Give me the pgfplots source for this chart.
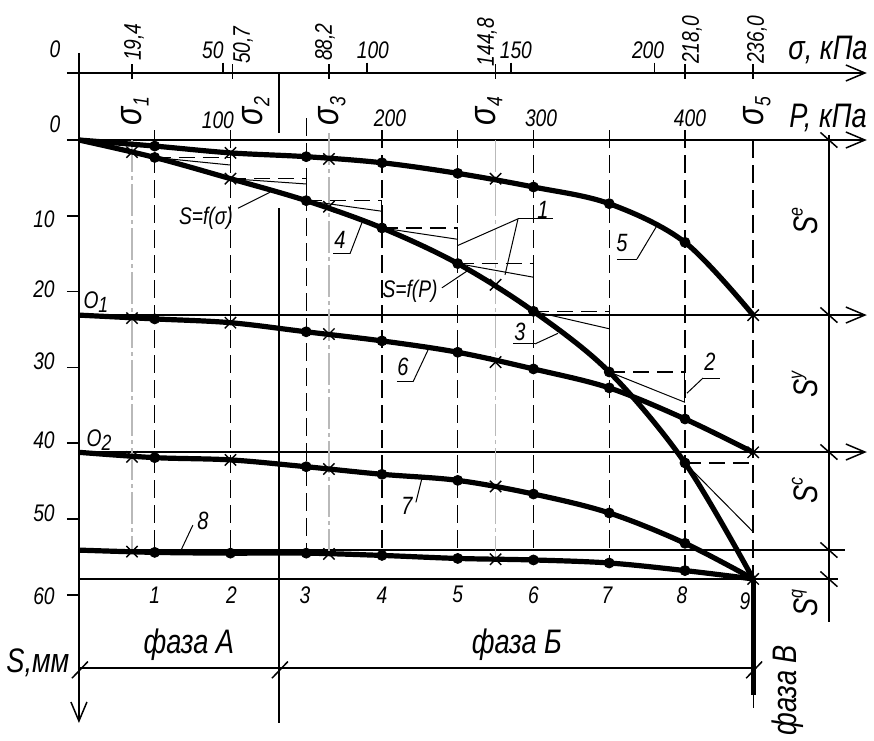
\documentclass[border=0pt]{standalone}
\usepackage{pgfplots}
\pgfplotsset{compat=1.18}
\usepackage{fontspec}
\setmainfont{Liberation Sans}[FakeStretch=0.8]
\usetikzlibrary{arrows.meta}
\newcommand\sbs[1]{\raisebox{-0.35ex}{\fontsize{11}{11}\selectfont\itshape #1}}
\newcommand\sps[1]{\raisebox{0.85ex}{\fontsize{10}{10}\selectfont\itshape #1}}
\tikzset{
  tk/.style={font=\fontsize{12}{13}\selectfont\itshape, inner sep=0pt},
  big/.style={font=\fontsize{17}{18}\selectfont\itshape, inner sep=0pt},
  sig/.style={font=\fontsize{19}{20}\selectfont\itshape, inner sep=0pt, rotate=90},
  ph/.style={font=\fontsize{17}{18}\selectfont\itshape, inner sep=0pt},
  cl/.style={font=\fontsize{12.5}{13}\selectfont\itshape, inner sep=0pt},
}
\pgfplotsset{
  crv/.style={black, line width=2.6pt, smooth, tension=0.55},
  ax/.style={black, line width=0.75pt},
  thn/.style={black, line width=0.5pt},
  dsh/.style={black, line width=0.7pt, dash pattern=on 9pt off 3.5pt},
  hds/.style={black, line width=0.6pt, dash pattern=on 8pt off 4pt},
  gry/.style={gray!55, line width=0.6pt, dash pattern=on 16pt off 2pt on 2pt off 2pt},
  dots/.style={only marks, mark=*, mark size=2.5pt, black},
  crs/.style={only marks, mark=x, mark size=4pt, black, mark options={line width=0.7pt}},
  arr/.style={ax, -{Straight Barb[length=9.5pt,width=8pt]}},
}
\begin{document}
\begin{tikzpicture}
\begin{axis}[x=0.7575pt, y=3.79pt, y dir=reverse,
  xmin=-52.1, xmax=524.75, ymin=-18.47, ymax=79.16,
  hide axis, clip=false]
\coordinate (bl) at (axis cs:-52.1,79.16);
\coordinate (tr) at (axis cs:524.75,-18.47);

% ---------- frame / axes ----------
\addplot[arr] coordinates {(-7.9,-8.84) (520,-8.84)};
\addplot[arr] coordinates {(-7.9,0) (520,0)};
\addplot[arr] coordinates {(0,23.09) (520,23.09)};
\addplot[arr] coordinates {(0,41.16) (520,41.16)};
\addplot[ax] coordinates {(0,54.09) (505.6,54.09)};
\addplot[ax] coordinates {(0,57.92) (501,57.92)};
\addplot[ax] coordinates {(0,69.66) (445,69.66)};
\addplot[arr] coordinates {(0,-11.5) (0,76.9)};
\addplot[ax] coordinates {(495,-0.7) (495,63.6)};
\addplot[ax] coordinates {(132,-8.84) (132,-0.9)};
\addplot[ax] coordinates {(132,9.0) (132,76.9)};
% y ticks
\addplot[ax] coordinates {(-7.9,10) (0,10)};
\addplot[ax] coordinates {(-7.9,20) (0,20)};
\addplot[ax] coordinates {(-7.9,30) (0,30)};
\addplot[ax] coordinates {(-7.9,40) (0,40)};
\addplot[ax] coordinates {(-7.9,50) (0,50)};
\addplot[ax] coordinates {(-7.9,60) (0,60)};
% sigma axis ticks
\addplot[ax] coordinates {(35,-10.0) (35,-8.0)};
\addplot[ax] coordinates {(95,-10.2) (95,-8.84)};
\addplot[ax] coordinates {(101.5,-10.0) (101.5,-8.0)};
\addplot[ax] coordinates {(165,-10.0) (165,-8.0)};
\addplot[ax] coordinates {(190,-10.2) (190,-8.84)};
\addplot[ax] coordinates {(275,-10.0) (275,-8.0)};
\addplot[ax] coordinates {(285,-10.2) (285,-8.84)};
\addplot[ax] coordinates {(380,-10.2) (380,-8.84)};
\addplot[ax] coordinates {(400,-10.0) (400,-8.0)};
\addplot[ax] coordinates {(445,-10.0) (445,-8.0)};
% slashes on right scale
\addplot[ax] coordinates {(489.4,-1.0) (500.6,1.0)};
\addplot[ax] coordinates {(489.4,22.09) (500.6,24.09)};
\addplot[ax] coordinates {(489.4,40.16) (500.6,42.16)};
\addplot[ax] coordinates {(489.4,53.09) (500.6,55.09)};
\addplot[ax] coordinates {(489.4,56.92) (500.6,58.92)};
% slashes on phase line
\addplot[ax] coordinates {(-4.6,71.0) (5.9,68.8)};
\addplot[ax] coordinates {(127.4,71.0) (137.9,68.8)};
\addplot[ax] coordinates {(440.4,71.0) (450.9,68.8)};

% ---------- vertical dashed lines ----------
\addplot[dsh] coordinates {(50,-1.3) (50,54.4)};
\addplot[dsh] coordinates {(100,-1.3) (100,54.5)};
\addplot[dsh] coordinates {(150,-2.9) (150,54.5)};
\addplot[dsh] coordinates {(200,-1.3) (200,54.8)};
\addplot[dsh] coordinates {(250,-1.3) (250,55.2)};
\addplot[dsh] coordinates {(300,-1.3) (300,55.4)};
\addplot[dsh] coordinates {(350,-1.3) (350,55.8)};
\addplot[dsh] coordinates {(400,-1.3) (400,56.8)};
\addplot[dsh] coordinates {(445,0) (445,57.9)};
\addplot[gry] coordinates {(35,0) (35,54.3)};
\addplot[gry] coordinates {(165,-0.9) (165,54.6)};
\addplot[gry] coordinates {(275,0) (275,55.3)};

% ---------- construction steps ----------
\addplot[hds] coordinates {(50,2.3) (100,2.3)};
\addplot[thn] coordinates {(50,2.3) (100,3.3)};
\addplot[hds] coordinates {(100,5.1) (150,5.1)};
\addplot[thn] coordinates {(100,5.1) (150,5.8)};
\addplot[thn] coordinates {(150,5.1) (150,8.0)};
\addplot[hds] coordinates {(150,8.0) (200,8.0)};
\addplot[thn] coordinates {(150,8.0) (200,9.4)};
\addplot[thn] coordinates {(200,8.0) (200,11.6)};
\addplot[hds] coordinates {(200,11.6) (250,11.6)};
\addplot[thn] coordinates {(200,11.6) (250,13.1)};
\addplot[thn] coordinates {(250,11.6) (250,16.3)};
\addplot[hds] coordinates {(250,16.3) (300,16.3)};
\addplot[thn] coordinates {(250,16.3) (300,18.1)};
\addplot[thn] coordinates {(300,16.3) (300,22.6)};
\addplot[hds] coordinates {(300,22.6) (350,22.6)};
\addplot[thn] coordinates {(300,22.6) (350,24.9)};
\addplot[thn] coordinates {(350,22.6) (350,30.6)};
\addplot[hds] coordinates {(350,30.6) (400,30.6)};
\addplot[thn] coordinates {(350,30.6) (400,34.6)};
\addplot[thn] coordinates {(400,30.6) (400,34.6)};
\addplot[hds] coordinates {(400,42.6) (445,42.6)};
\addplot[thn] coordinates {(400,42.6) (445,51.7)};

% ---------- curves ----------
% S = f(P)
\addplot[crv] coordinates {(0,0) (50,2.3) (100,5.1) (150,8.0) (200,11.6) (250,16.3) (300,22.6) (350,30.6) (400,42.6) (445,57.9)};
\addplot[dots] coordinates {(50,2.3) (150,8.0) (200,11.6) (250,16.3) (300,22.6) (350,30.6) (400,42.6)};
\addplot[crs] coordinates {(35,1.6) (100,5.1) (165,8.8) (275,19.1)};
% curve 5
\addplot[crv] coordinates {(0,0) (50,0.8) (100,1.7) (150,2.2) (200,3.0) (250,4.4) (300,6.2) (350,8.4) (400,13.5) (445,23.1)};
\addplot[dots] coordinates {(50,0.8) (150,2.2) (200,3.0) (250,4.4) (300,6.2) (350,8.4) (400,13.5)};
\addplot[crs] coordinates {(100,1.7) (165,2.5) (275,5.1) (445,23.1)};
% curve 6
\addplot[crv] coordinates {(0,23.1) (50,23.6) (100,24.1) (150,25.3) (200,26.5) (250,28.0) (300,30.2) (350,32.7) (400,36.8) (445,41.2)};
\addplot[dots] coordinates {(50,23.6) (150,25.3) (200,26.5) (250,28.0) (300,30.2) (350,32.7) (400,36.8)};
\addplot[crs] coordinates {(35,23.5) (100,24.1) (165,25.6) (275,29.3) (445,41.2)};
% curve 7
\addplot[crv] coordinates {(0,41.2) (50,41.9) (100,42.2) (150,43.1) (200,44.1) (250,44.9) (300,46.7) (350,49.2) (400,53.2) (445,57.9)};
\addplot[dots] coordinates {(50,41.9) (150,43.1) (200,44.1) (250,44.9) (300,46.7) (350,49.2) (400,53.2)};
\addplot[crs] coordinates {(35,41.8) (100,42.2) (165,43.4) (275,45.7) (445,57.9)};
% curve 8
\addplot[crv] coordinates {(0,54.1) (50,54.4) (100,54.5) (150,54.5) (200,54.8) (250,55.2) (300,55.4) (350,55.8) (400,56.8) (445,57.9)};
\addplot[dots] coordinates {(50,54.4) (100,54.5) (150,54.5) (200,54.8) (250,55.2) (300,55.4) (350,55.8) (400,56.8)};
\addplot[crs] coordinates {(35,54.3) (165,54.6) (275,55.3)};
% phase B
\addplot[black, line width=2.6pt] coordinates {(445,57.9) (445,73.2)};
\addplot[thn] coordinates {(445,73.2) (445,74.9)};

% ---------- leaders ----------
\addplot[thn] coordinates {(289.8,10.4) (312.9,10.4)};
\addplot[thn] coordinates {(289.8,10.4) (250.2,13.9)};
\addplot[thn] coordinates {(289.8,10.4) (281.2,17.8)};
\addplot[thn] coordinates {(411.9,31.4) (423.1,31.4)};
\addplot[thn] coordinates {(411.9,31.4) (401.3,33.4)};
\addplot[thn] coordinates {(286.5,26.9) (301,26.9)};
\addplot[thn] coordinates {(301,26.9) (316.2,25.5)};
\addplot[thn] coordinates {(167.7,15.0) (178.9,15.0)};
\addplot[thn] coordinates {(178.9,15.0) (186.8,10.9)};
\addplot[thn] coordinates {(355.1,15.7) (368.3,15.7)};
\addplot[thn] coordinates {(368.3,15.7) (381.5,11.3)};
\addplot[thn] coordinates {(209.9,31.9) (220.5,31.9)};
\addplot[thn] coordinates {(220.5,31.9) (230.4,27.7)};
\addplot[thn] coordinates {(222.4,47.8) (226.4,44.6)};
\addplot[thn] coordinates {(75.2,50.8) (66.7,54.4)};
\addplot[thn] coordinates {(105,9.0) (126,6.9)};
\addplot[thn] coordinates {(239.6,19.5) (256.8,17.2)};

% ---------- texts ----------
\node[tk] at (-15.8,-12.0) {0};
\node[tk] at (88.4,-11.9) {50};
\node[tk] at (194,-11.9) {100};
\node[tk] at (288.4,-11.9) {150};
\node[tk] at (375.6,-11.9) {200};
\node[tk, rotate=90] at (36.3,-12.9) {19,4};
\node[tk, rotate=90] at (108.3,-12.5) {50,7};
\node[tk, rotate=90] at (162.4,-12.9) {88,2};
\node[tk, rotate=90] at (269.3,-12.9) {144,8};
\node[tk, rotate=90] at (404.6,-13.2) {218,0};
\node[tk, rotate=90] at (447.5,-13.2) {236,0};
\node[big] at (494.4,-11.9) {σ, кПа};
\node[tk] at (-15.8,-2.1) {0};
\node[tk] at (91.7,-2.6) {100};
\node[tk] at (205.3,-2.9) {200};
\node[tk] at (305,-2.9) {300};
\node[tk] at (403.3,-2.9) {400};
\node[big] at (494.4,-2.9) {P, кПа};
\node[sig] at (37,-3.8) {σ\sbs{1}};
\node[sig] at (116.8,-3.8) {σ\sbs{2}};
\node[sig] at (167,-3.8) {σ\sbs{3}};
\node[sig] at (270.6,-3.8) {σ\sbs{4}};
\node[sig] at (447.5,-3.8) {σ\sbs{5}};
\node[tk] at (-23.1,10.4) {10};
\node[tk] at (-23.1,19.7) {20};
\node[tk] at (-23.1,29.2) {30};
\node[tk] at (-23.1,39.6) {40};
\node[tk] at (-23.1,49.3) {50};
\node[tk] at (-23.1,60.2) {60};
\node[tk] at (11.2,21.4) {O\sbs{1}};
\node[tk] at (13.2,39.6) {O\sbs{2}};
\node[big, rotate=90] at (479.2,10.7) {S\sps{e}};
\node[big, rotate=90] at (479.2,32.3) {S\sps{y}};
\node[big, rotate=90] at (479.2,46.2) {S\sps{c}};
\node[big, rotate=90] at (479.2,61.1) {S\sps{q}};
\node[tk] at (50,60.0) {1};
\node[tk] at (100.7,60.0) {2};
\node[tk] at (149.2,60.0) {3};
\node[tk] at (200,60.0) {4};
\node[tk] at (250,60.0) {5};
\node[tk] at (300,60.0) {6};
\node[tk] at (348.5,60.0) {7};
\node[tk] at (398,60.0) {8};
\node[tk] at (439.6,60.9) {9};
\node[ph] at (72.6,66.6) {фаза А};
\node[ph] at (289.1,66.6) {фаза Б};
\node[ph, rotate=90] at (468,72.6) {фаза В};
\node[big] at (-27.1,68.9) {S,мм};
\node[cl] at (306.3,9.2) {1};
\node[cl] at (416.5,29.3) {2};
\node[cl] at (291.1,25.3) {3};
\node[cl] at (172.3,13.2) {4};
\node[cl] at (358.4,13.6) {5};
\node[cl] at (213.9,29.9) {6};
\node[cl] at (216.5,48.3) {7};
\node[cl] at (81.8,50.3) {8};
\node[tk] at (83.8,10.3) {S=f(σ)};
\node[tk] at (218.5,19.9) {S=f(P)};
\end{axis}
\pgfresetboundingbox
\useasboundingbox (bl) rectangle (tr);
\end{tikzpicture}
\end{document}
